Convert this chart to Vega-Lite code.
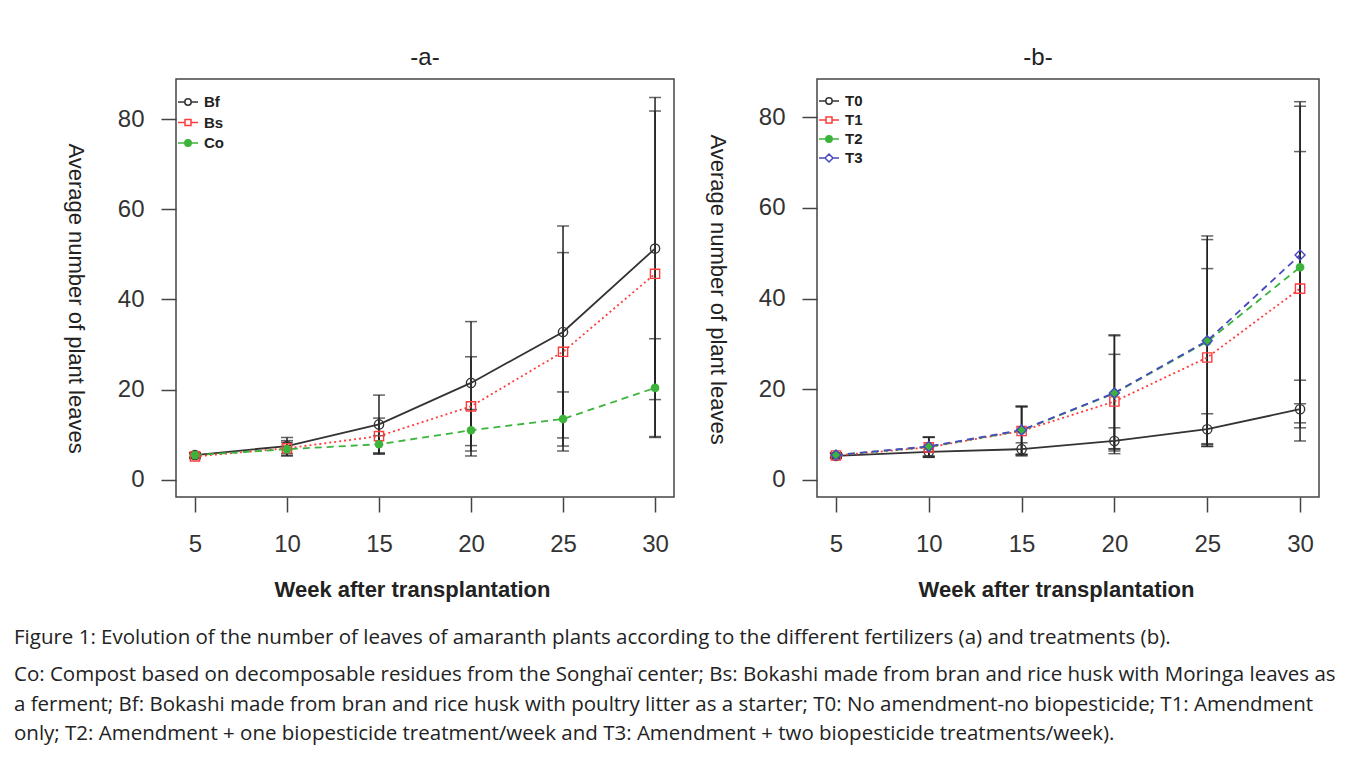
{
  "$schema": "https://vega.github.io/schema/vega-lite/v6.json",
  "background": "white",
  "padding": {"left": 14, "top": 45, "right": 0, "bottom": 0},
  "bounds": "flush",
  "spacing": 143,
  "resolve": {"scale": {"color": "independent"}, "legend": {"color": "independent"}},
  "config": {
    "view": {"stroke": "#444", "strokeWidth": 1.5},
    "axis": {"domain": false, "grid": false, "tickSize": 15, "tickWidth": 1.5, "tickColor": "#444", "labelFont": "Liberation Sans", "labelFontSize": 24, "labelColor": "#333", "labelFlush": false, "labelOverlap": false, "titleFont": "Liberation Sans", "titleColor": "#222"},
    "legend": {"symbolOpacity": 1}
  },
  "title": {
    "text": "Figure 1: Evolution of the number of leaves of amaranth plants according to the different fertilizers (a) and treatments (b).",
    "subtitle": [
      "Co: Compost based on decomposable residues from the Songhaï center; Bs: Bokashi made from bran and rice husk with Moringa leaves as",
      "a ferment; Bf: Bokashi made from bran and rice husk with poultry litter as a starter; T0: No amendment-no biopesticide; T1: Amendment",
      "only; T2: Amendment + one biopesticide treatment/week and T3: Amendment + two biopesticide treatments/week)."
    ],
    "orient": "bottom", "anchor": "start", "frame": "group", "dx": -162, "offset": 27,
    "font": "Open Sans", "fontSize": 20.5, "fontWeight": "normal", "color": "#222",
    "subtitleFont": "Open Sans", "subtitleFontSize": 20.5, "subtitleColor": "#222", "subtitleLineHeight": 29.5, "subtitlePadding": 17
  },
  "hconcat": [
    {
      "width": 498, "height": 418,
      "title": {"text": "-a-", "font": "Liberation Sans", "fontSize": 24, "fontWeight": "normal", "color": "#222", "offset": 9},
      "data": {"values": [
        {"week": 5, "s": "Bf", "m": 5.5, "lo": 5.0, "hi": 6.0},
        {"week": 10, "s": "Bf", "m": 7.5, "lo": 5.8, "hi": 9.4},
        {"week": 15, "s": "Bf", "m": 12.3, "lo": 5.8, "hi": 18.8},
        {"week": 20, "s": "Bf", "m": 21.5, "lo": 7.6, "hi": 35.1},
        {"week": 25, "s": "Bf", "m": 32.8, "lo": 9.3, "hi": 56.3},
        {"week": 30, "s": "Bf", "m": 51.3, "lo": 17.8, "hi": 84.8},
        {"week": 5, "s": "Bs", "m": 5.2, "lo": 4.7, "hi": 5.8},
        {"week": 10, "s": "Bs", "m": 7.0, "lo": 5.3, "hi": 8.7},
        {"week": 15, "s": "Bs", "m": 9.7, "lo": 5.7, "hi": 13.7},
        {"week": 20, "s": "Bs", "m": 16.3, "lo": 5.3, "hi": 27.3},
        {"week": 25, "s": "Bs", "m": 28.4, "lo": 6.4, "hi": 50.4},
        {"week": 30, "s": "Bs", "m": 45.7, "lo": 9.6, "hi": 81.8},
        {"week": 5, "s": "Co", "m": 5.5, "lo": 5.0, "hi": 6.0},
        {"week": 10, "s": "Co", "m": 6.8, "lo": 5.4, "hi": 8.3},
        {"week": 15, "s": "Co", "m": 7.9, "lo": 6.0, "hi": 9.8},
        {"week": 20, "s": "Co", "m": 11.0, "lo": 6.4, "hi": 15.6},
        {"week": 25, "s": "Co", "m": 13.5, "lo": 7.5, "hi": 19.5},
        {"week": 30, "s": "Co", "m": 20.4, "lo": 9.4, "hi": 31.3}
      ]},
      "encoding": {
        "x": {"field": "week", "type": "quantitative", "scale": {"domain": [3.97, 31.03], "nice": false, "zero": false},
              "axis": {"values": [5, 10, 15, 20, 25, 30], "labelPadding": 20, "title": "Week after transplantation", "titleFontSize": 22, "titleFontWeight": "bold", "titleX": 236, "titleY": 92, "titleAlign": "center", "titleBaseline": "middle"}}
      },
      "layer": [
        {"mark": {"type": "errorbar", "ticks": {"size": 12, "thickness": 1.5, "color": "#222"}, "rule": {"strokeWidth": 1.5, "color": "#222"}},
         "encoding": {"y": {"field": "lo", "type": "quantitative", "scale": {"domain": [-3.8, 88.9], "nice": false, "zero": false},
                            "axis": {"values": [0, 20, 40, 60, 80], "labelPadding": 17, "title": "Average number of plant leaves", "titleFontSize": 22, "titleFontWeight": "normal", "titleAngle": 90, "titleX": -101, "titleY": 219, "titleAlign": "center", "titleBaseline": "middle"}},
                      "y2": {"field": "hi"}}},
        {"encoding": {
           "y": {"field": "m", "type": "quantitative", "scale": {"domain": [-3.8, 88.9], "nice": false, "zero": false},
                 "axis": {"values": [0, 20, 40, 60, 80], "labelPadding": 17, "title": "Average number of plant leaves", "titleFontSize": 22, "titleFontWeight": "normal", "titleAngle": 90, "titleX": -101, "titleY": 219, "titleAlign": "center", "titleBaseline": "middle"}},
           "color": {"field": "s", "type": "nominal", "scale": {"domain": ["Bf", "Bs", "Co"], "range": ["#333333", "#ff3c3c", "#3cb43c"]},
                     "legend": {"title": null, "orient": "none", "legendX": 1, "legendY": 12, "padding": 0, "symbolSize": 400, "symbolStrokeWidth": 1.5, "labelFont": "Liberation Sans", "labelFontSize": 15, "labelFontWeight": "bold", "labelColor": "#222", "labelOffset": 5, "rowPadding": 1.5,
                                "encode": {"symbols": {"update": {
                                  "shape": {"signal": "datum.value === 'Bs' ? 'M-1,0H-0.3M0.3,0H1M-0.3,-0.3H0.3V0.3H-0.3Z' : 'M-1,0H-0.32M0.32,0H1M-0.32,0A0.32,0.32 0 1,1 0.32,0A0.32,0.32 0 1,1 -0.32,0Z'"},
                                  "fillOpacity": {"signal": "datum.value === 'Co' ? 1 : 0"}}}}}}
         },
         "layer": [
           {"transform": [{"filter": "datum.s === 'Bf'"}], "mark": {"type": "line", "strokeWidth": 1.8}},
           {"transform": [{"filter": "datum.s === 'Bs'"}], "mark": {"type": "line", "strokeWidth": 1.8, "strokeDash": [2, 3]}},
           {"transform": [{"filter": "datum.s === 'Co'"}], "mark": {"type": "line", "strokeWidth": 1.8, "strokeDash": [7, 5]}},
           {"transform": [{"filter": "datum.s === 'Bf'"}], "mark": {"type": "point", "shape": "circle", "filled": false, "size": 85, "strokeWidth": 1.4, "opacity": 1}},
           {"transform": [{"filter": "datum.s === 'Bs'"}], "mark": {"type": "point", "shape": "square", "filled": false, "size": 85, "strokeWidth": 1.4, "opacity": 1}},
           {"transform": [{"filter": "datum.s === 'Co'"}], "mark": {"type": "point", "shape": "circle", "filled": true, "size": 75, "opacity": 1}}
         ]}
      ]
    },
    {
      "width": 502, "height": 418,
      "title": {"text": "-b-", "font": "Liberation Sans", "fontSize": 24, "fontWeight": "normal", "color": "#222", "offset": 9, "dx": -30},
      "data": {"values": [
        {"week": 5, "s": "T0", "m": 5.3, "lo": 4.8, "hi": 5.8},
        {"week": 10, "s": "T0", "m": 6.2, "lo": 5.0, "hi": 7.4},
        {"week": 15, "s": "T0", "m": 6.8, "lo": 5.3, "hi": 8.2},
        {"week": 20, "s": "T0", "m": 8.6, "lo": 5.8, "hi": 11.5},
        {"week": 25, "s": "T0", "m": 11.2, "lo": 7.8, "hi": 14.6},
        {"week": 30, "s": "T0", "m": 15.6, "lo": 8.6, "hi": 22.0},
        {"week": 5, "s": "T1", "m": 5.4, "lo": 4.8, "hi": 6.0},
        {"week": 10, "s": "T1", "m": 7.2, "lo": 5.0, "hi": 9.4},
        {"week": 15, "s": "T1", "m": 10.8, "lo": 5.5, "hi": 16.1},
        {"week": 20, "s": "T1", "m": 17.3, "lo": 6.9, "hi": 27.7},
        {"week": 25, "s": "T1", "m": 27.0, "lo": 7.4, "hi": 46.6},
        {"week": 30, "s": "T1", "m": 42.2, "lo": 12.6, "hi": 72.4},
        {"week": 5, "s": "T2", "m": 5.5, "lo": 5.0, "hi": 6.0},
        {"week": 10, "s": "T2", "m": 7.3, "lo": 5.2, "hi": 9.4},
        {"week": 15, "s": "T2", "m": 10.9, "lo": 5.6, "hi": 16.2},
        {"week": 20, "s": "T2", "m": 19.1, "lo": 6.4, "hi": 31.8},
        {"week": 25, "s": "T2", "m": 30.5, "lo": 8.0, "hi": 53.0},
        {"week": 30, "s": "T2", "m": 46.9, "lo": 11.5, "hi": 82.4},
        {"week": 5, "s": "T3", "m": 5.5, "lo": 5.0, "hi": 6.0},
        {"week": 10, "s": "T3", "m": 7.4, "lo": 5.3, "hi": 9.5},
        {"week": 15, "s": "T3", "m": 11.0, "lo": 5.7, "hi": 16.3},
        {"week": 20, "s": "T3", "m": 19.2, "lo": 6.8, "hi": 32.0},
        {"week": 25, "s": "T3", "m": 30.7, "lo": 7.4, "hi": 53.8},
        {"week": 30, "s": "T3", "m": 49.6, "lo": 16.8, "hi": 83.4}
      ]},
      "encoding": {
        "x": {"field": "week", "type": "quantitative", "scale": {"domain": [3.98, 31.02], "nice": false, "zero": false},
              "axis": {"values": [5, 10, 15, 20, 25, 30], "labelPadding": 20, "title": "Week after transplantation", "titleFontSize": 22, "titleFontWeight": "bold", "titleX": 239, "titleY": 92, "titleAlign": "center", "titleBaseline": "middle"}}
      },
      "layer": [
        {"mark": {"type": "errorbar", "ticks": {"size": 12, "thickness": 1.5, "color": "#222"}, "rule": {"strokeWidth": 1.5, "color": "#222"}},
         "encoding": {"y": {"field": "lo", "type": "quantitative", "scale": {"domain": [-3.75, 88.4], "nice": false, "zero": false},
                            "axis": {"values": [0, 20, 40, 60, 80], "labelPadding": 17, "title": "Average number of plant leaves", "titleFontSize": 22, "titleFontWeight": "normal", "titleAngle": 90, "titleX": -100, "titleY": 210, "titleAlign": "center", "titleBaseline": "middle"}},
                      "y2": {"field": "hi"}}},
        {"encoding": {
           "y": {"field": "m", "type": "quantitative", "scale": {"domain": [-3.75, 88.4], "nice": false, "zero": false},
                 "axis": {"values": [0, 20, 40, 60, 80], "labelPadding": 17, "title": "Average number of plant leaves", "titleFontSize": 22, "titleFontWeight": "normal", "titleAngle": 90, "titleX": -100, "titleY": 210, "titleAlign": "center", "titleBaseline": "middle"}},
           "color": {"field": "s", "type": "nominal", "scale": {"domain": ["T0", "T1", "T2", "T3"], "range": ["#333333", "#ff3c3c", "#3cb43c", "#4848c0"]},
                     "legend": {"title": null, "orient": "none", "legendX": 1, "legendY": 11, "padding": 0, "symbolSize": 400, "symbolStrokeWidth": 1.5, "labelFont": "Liberation Sans", "labelFontSize": 15, "labelFontWeight": "bold", "labelColor": "#222", "labelOffset": 5, "rowPadding": 0,
                                "encode": {"symbols": {"update": {
                                  "shape": {"signal": "datum.value === 'T1' ? 'M-1,0H-0.3M0.3,0H1M-0.3,-0.3H0.3V0.3H-0.3Z' : datum.value === 'T3' ? 'M-1,0H-0.4M0.4,0H1M-0.4,0L0,-0.4L0.4,0L0,0.4Z' : 'M-1,0H-0.32M0.32,0H1M-0.32,0A0.32,0.32 0 1,1 0.32,0A0.32,0.32 0 1,1 -0.32,0Z'"},
                                  "fillOpacity": {"signal": "datum.value === 'T2' ? 1 : 0"}}}}}}
         },
         "layer": [
           {"transform": [{"filter": "datum.s === 'T0'"}], "mark": {"type": "line", "strokeWidth": 1.8}},
           {"transform": [{"filter": "datum.s === 'T1'"}], "mark": {"type": "line", "strokeWidth": 1.8, "strokeDash": [2, 3]}},
           {"transform": [{"filter": "datum.s === 'T2' || datum.s === 'T3'"}], "mark": {"type": "line", "strokeWidth": 1.8, "strokeDash": [7, 5]}},
           {"transform": [{"filter": "datum.s === 'T0'"}], "mark": {"type": "point", "shape": "circle", "filled": false, "size": 85, "strokeWidth": 1.4, "opacity": 1}},
           {"transform": [{"filter": "datum.s === 'T1'"}], "mark": {"type": "point", "shape": "square", "filled": false, "size": 85, "strokeWidth": 1.4, "opacity": 1}},
           {"transform": [{"filter": "datum.s === 'T2'"}], "mark": {"type": "point", "shape": "circle", "filled": true, "size": 75, "opacity": 1}},
           {"transform": [{"filter": "datum.s === 'T3'"}], "mark": {"type": "point", "shape": "diamond", "filled": false, "size": 100, "strokeWidth": 1.4, "opacity": 1}}
         ]}
      ]
    }
  ]
}
